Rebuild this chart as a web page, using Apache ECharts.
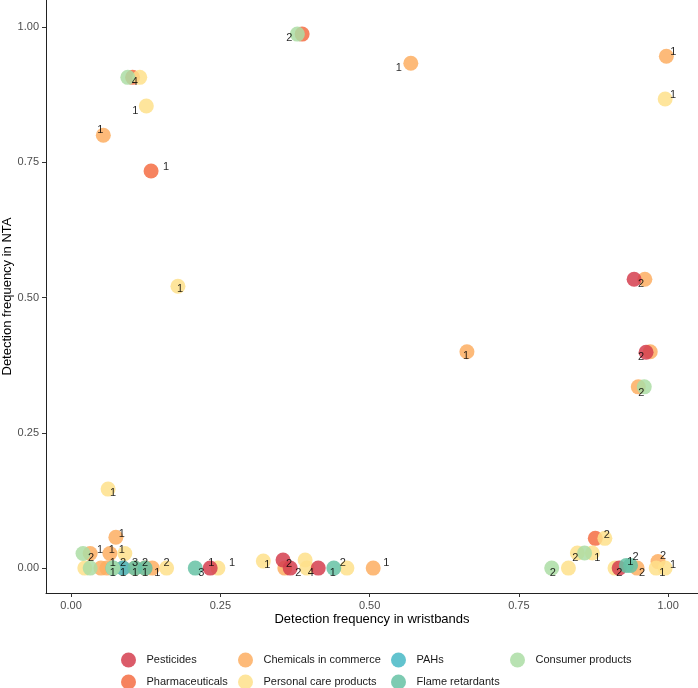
<!DOCTYPE html>
<html><head><meta charset="utf-8">
<script src="https://cdn.jsdelivr.net/npm/echarts@6/dist/echarts.min.js"></script>
<style>html,body{margin:0;padding:0;background:#fff}#c{width:698px;height:688px}</style>
</head><body><div id="c"></div>
<script>
// categories (legend order)
const categories = ['Pesticides','Pharmaceuticals','Chemicals in commerce','Personal care products','PAHs','Flame retardants','Consumer products'];
const xTicks = [0, 0.25, 0.5, 0.75, 1];
const yTicks = [0, 0.25, 0.5, 0.75, 1];

// [detection frequency in wristbands, detection frequency in NTA, count label]
const pesticides = [
  [0.943,0.534,'2'],[0.963,0.399,'2'],[0.233,0,'1'],[0.355,0.015,'2'],[0.367,0,'2'],[0.414,0,''],[0.918,0,'2']
];
const pharmaceuticals = [
  [0.387,0.987,''],[0.103,0.907,''],[0.134,0.734,'1'],[0.878,0.055,'']
];
const chemicals = [
  [0.054,0.800,'1'],[0.569,0.933,'1'],[0.997,0.946,'1'],[0.961,0.534,''],[0.970,0.400,''],[0.950,0.335,''],
  [0.663,0.400,'1'],[0.075,0.057,'1'],[0.032,0.027,'1'],[0.065,0.027,'1'],[0.050,0,''],[0.060,0,''],
  [0.087,0,'2'],[0.107,0,'3'],[0.124,0,'1'],[0.136,0,'1'],[0.358,0,''],[0.506,0,'1'],[0.948,0,'2'],[0.983,0.012,'2']
];
const personalCare = [
  [0.115,0.907,''],[0.126,0.854,'1'],[0.179,0.521,'1'],[0.995,0.867,'1'],[0.062,0.146,'1'],[0.090,0.027,'1'],
  [0.023,0,''],[0.160,0,'2'],[0.246,0,'1'],[0.322,0.013,'1'],[0.392,0.015,''],[0.395,0,'4'],[0.462,0,'2'],
  [0.894,0.055,'2'],[0.848,0.028,'2'],[0.873,0.028,'1'],[0.833,0,''],[0.911,0,''],[0.980,0,'1'],[0.995,0,'1']
];
const pahs = [
  [0.070,0,'1'],[0.087,0,'1']
];
const flameRetardants = [
  [0.107,0,'1'],[0.124,0,'2'],[0.208,0,'3'],[0.440,0,'1'],[0.930,0.005,'1'],[0.937,0.005,'2']
];
const consumerProducts = [
  [0.095,0.907,'4'],[0.379,0.987,'2'],[0.960,0.335,'2'],[0.020,0.027,'2'],[0.032,0,''],[0.070,0,'1'],[0.805,0,'2'],[0.860,0.028,'']
];

// label placement offsets (px), one per point, same order as above
const pesticidesLabelOffset = [[7,5],[-5,5],[1,-5],[6,4],[8,5],[0,0],[0,5]];
const pharmaceuticalsLabelOffset = [[0,0],[0,0],[15,-4],[0,0]];
const chemicalsLabelOffset = [[-3,-5],[-12,5],[7,-4],[0,0],[0,0],[0,0],[-1,4],[6,-3],[10,-4],[2,-4],[0,0],[0,0],
  [0,-5],[0,-5],[0,5],[5,5],[0,0],[13,-5],[5,5],[5,-6]];
const personalCareLabelOffset = [[0,0],[-11,5],[2,3],[8,-4],[5,4],[-3,-4],[0,0],[0,-5],[14,-5],[4,4],[0,0],[4,5],[-4,-5],
  [2,-3],[-2,5],[5,5],[0,0],[0,0],[6,5],[8,-3]];
const pahsLabelOffset = [[0,5],[0,5]];
const flameRetardantsLabelOffset = [[0,5],[0,-5],[6,5],[-1,5],[4,-3],[5,-8]];
const consumerProductsLabelOffset = [[7,5],[-8,4],[-3,6],[8,4],[0,0],[0,-5],[1,5],[0,0]];

const palette = {
  'Pesticides':'#D53E4F','Pharmaceuticals':'#F46D43','Chemicals in commerce':'#FDAE61',
  'Personal care products':'#FEE08B','PAHs':'#47B8C6','Flame retardants':'#66C2A5','Consumer products':'#ABDDA4'
};

// drawing order (later on top)
const drawOrder = [
  ['Chemicals in commerce', chemicals, chemicalsLabelOffset],
  ['Pharmaceuticals', pharmaceuticals, pharmaceuticalsLabelOffset],
  ['Personal care products', personalCare, personalCareLabelOffset],
  ['Pesticides', pesticides, pesticidesLabelOffset],
  ['PAHs', pahs, pahsLabelOffset],
  ['Flame retardants', flameRetardants, flameRetardantsLabelOffset],
  ['Consumer products', consumerProducts, consumerProductsLabelOffset]
];

const font = "'Liberation Sans', Arial, Helvetica, sans-serif";
const series = drawOrder.map(([name, pts, offs]) => ({
  name, type:'scatter', symbol:'circle', symbolSize:15,
  itemStyle:{color:palette[name], opacity:0.85},
  emphasis:{disabled:true},
  data: pts.map((p,i) => ({
    value:[p[0], p[1]],
    label:{show:p[2] !== '', formatter:p[2], position:'inside', offset:offs[i],
      color:'#000', fontSize:11, fontFamily:font}
  }))
}));

const legendCol = (data, left) => ({
  data, orient:'vertical', left, top:652.5, height:60, padding:0, itemWidth:26, itemHeight:15, itemGap:7,
  icon:'circle', textStyle:{fontSize:11, color:'#1a1a1a', fontFamily:font}, selectedMode:false
});

const chart = echarts.init(document.getElementById('c'), null, {renderer:'canvas'});
chart.setOption({
  animation:false,
  backgroundColor:'#fff',
  grid:{left:46, right:0, top:0, bottom:95, containLabel:false, outerBoundsMode:'none'},
  xAxis:{
    type:'value', min:-0.042, max:1.05,
    name:'Detection frequency in wristbands', nameLocation:'middle', nameGap:20, nameMoveOverlap:false,
    nameTextStyle:{fontSize:13, color:'#000', fontFamily:font},
    axisLine:{show:true, onZero:false, lineStyle:{color:'#222', width:1}},
    axisTick:{show:true, length:4, lineStyle:{color:'#333'}, customValues:xTicks},
    axisLabel:{customValues:xTicks, formatter:v=>v.toFixed(2), fontSize:11, color:'#4d4d4d', margin:7, fontFamily:font},
    splitLine:{show:false}
  },
  yAxis:{
    type:'value', min:-0.046, max:1.05,
    name:'Detection frequency in NTA', nameLocation:'middle', nameGap:32, nameRotate:90, nameMoveOverlap:false,
    nameTextStyle:{fontSize:13, color:'#000', fontFamily:font},
    axisLine:{show:true, onZero:false, lineStyle:{color:'#222', width:1}},
    axisTick:{show:true, length:4, lineStyle:{color:'#333'}, customValues:yTicks},
    axisLabel:{customValues:yTicks, formatter:v=>v.toFixed(2), fontSize:11, color:'#4d4d4d', margin:7, fontFamily:font},
    splitLine:{show:false}
  },
  legend:[
    legendCol([categories[0], categories[1]], 121),
    legendCol([categories[2], categories[3]], 238),
    legendCol([categories[4], categories[5]], 391),
    legendCol([categories[6]], 510)
  ],
  series
});
</script>
</body></html>
